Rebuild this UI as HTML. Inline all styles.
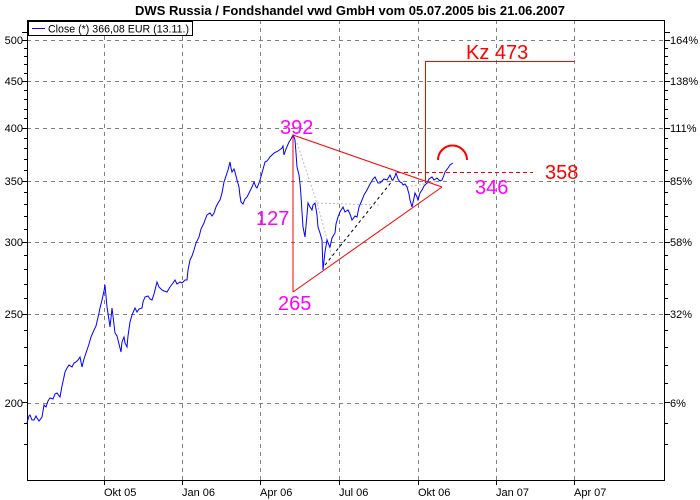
<!DOCTYPE html>
<html><head><meta charset="utf-8"><style>
body{margin:0;background:#fff}
svg{display:block}
text{font-family:"Liberation Sans",sans-serif}
</style></head><body>
<svg width="700" height="500" viewBox="0 0 700 500" xmlns="http://www.w3.org/2000/svg">
<text x="350" y="15" text-anchor="middle" font-size="13" font-weight="bold">DWS Russia / Fondshandel vwd GmbH vom 05.07.2005 bis 21.06.2007</text>
<g stroke="#808080" stroke-dasharray="4,4" stroke-width="1" shape-rendering="crispEdges">
<line x1="27" x2="665" y1="40.5" y2="40.5"/><line x1="27" x2="665" y1="81.5" y2="81.5"/>
<line x1="27" x2="665" y1="128.5" y2="128.5"/><line x1="27" x2="665" y1="181.5" y2="181.5"/>
<line x1="27" x2="665" y1="242.5" y2="242.5"/><line x1="27" x2="665" y1="314.5" y2="314.5"/>
<line x1="27" x2="665" y1="403.5" y2="403.5"/>
<line y1="20" y2="481" x1="104.5" x2="104.5"/><line y1="20" y2="481" x1="182.5" x2="182.5"/>
<line y1="20" y2="481" x1="260.5" x2="260.5"/><line y1="20" y2="481" x1="339.5" x2="339.5"/>
<line y1="20" y2="481" x1="418.5" x2="418.5"/><line y1="20" y2="481" x1="496.5" x2="496.5"/>
<line y1="20" y2="481" x1="574.5" x2="574.5"/>
</g>
<g stroke="#000" shape-rendering="crispEdges">
<path d="M22,32.5h5M22,40.5h5M24,48.5h3M24,56.5h3M24,64.5h3M24,73.5h3M22,81.5h5M24,90.5h3M24,99.5h3M24,109.5h3M24,118.5h3M22,128.5h5M24,138.5h3M24,148.5h3M24,159.5h3M24,170.5h3M22,181.5h5M24,192.5h3M24,204.5h3M24,216.5h3M24,229.5h3M22,242.5h5M24,255.5h3M24,269.5h3M24,284.5h3M24,298.5h3M22,314.5h5M24,330.5h3M24,347.5h3M24,365.5h3M24,383.5h3M22,402.5h5M24,423.5h3M24,444.5h3"/>
<path d="M665,32.5h5M665,40.5h5M665,48.5h3M665,56.5h3M665,64.5h3M665,73.5h3M665,81.5h5M665,90.5h3M665,99.5h3M665,109.5h3M665,118.5h3M665,128.5h5M665,138.5h3M665,148.5h3M665,159.5h3M665,170.5h3M665,181.5h5M665,192.5h3M665,204.5h3M665,216.5h3M665,229.5h3M665,242.5h5M665,255.5h3M665,269.5h3M665,284.5h3M665,298.5h3M665,314.5h5M665,330.5h3M665,347.5h3M665,365.5h3M665,383.5h3M665,402.5h5M665,423.5h3M665,444.5h3"/>
<path d="M104.5,481v4M182.5,481v4M260.5,481v4M339.5,481v4M418.5,481v4M496.5,481v4M574.5,481v4"/>
</g>
<rect x="27.5" y="20.5" width="637" height="460" fill="none" stroke="#000"/>
<g font-size="11" fill="#000">
<text x="23" y="44" text-anchor="end">500</text><text x="23" y="85" text-anchor="end">450</text>
<text x="23" y="132" text-anchor="end">400</text><text x="23" y="185" text-anchor="end">350</text>
<text x="23" y="246" text-anchor="end">300</text><text x="23" y="318" text-anchor="end">250</text>
<text x="23" y="407" text-anchor="end">200</text>
<text x="670" y="44">164%</text><text x="670" y="85">138%</text><text x="670" y="132">111%</text>
<text x="670" y="185">85%</text><text x="670" y="246">58%</text><text x="670" y="318">32%</text>
<text x="670" y="407">6%</text>
<text x="104" y="496">Okt 05</text><text x="182" y="496">Jan 06</text><text x="260" y="496">Apr 06</text>
<text x="339" y="496">Jul 06</text><text x="418" y="496">Okt 06</text><text x="496" y="496">Jan 07</text>
<text x="574" y="496">Apr 07</text>
</g>
<rect x="28.5" y="21.5" width="164" height="14" fill="#fff" stroke="#000"/>
<line x1="32" x2="45" y1="28.5" y2="28.5" stroke="#0000ff"/>
<text x="48" y="32.5" font-size="11" textLength="141" lengthAdjust="spacingAndGlyphs">Close (*) 366,08 EUR (13.11.)</text>
<g fill="none" stroke-width="1">
<polyline stroke="#bbb" stroke-dasharray="2,2" points="297,143 317,203 332,257"/>
<polyline stroke="#bbb" stroke-dasharray="2,2" points="317,203 380,205"/>
<polyline stroke="#bbb" stroke-dasharray="2,2" points="407,187 430,183 440,180"/>
<polyline stroke="#000" stroke-dasharray="3,3" points="325,265 393,180"/>
<polyline stroke="#0000ff" points="27,423 29,416 30,415 32,420 34,420 36,416 37,418 39,421 42,417 44,405 46,407 48,401 50,398 53,399 55,394 57,393 60,397 62,386 64,377 65,372 67,368 69,365 72,367 74,363 76,362 78,360 80,357 82,367 84,359 87,350 89,344 91,337 94,330 96,326 99,313 100,308 102,300 104,291 105,285 106,296 107,307 109,320 110,327 111,318 112,308 113,316 115,333 117,336 119,344 121,352 122,342 124,337 125,343 127,347 128,336 130,322 132,315 135,308 137,312 139,309 142,308 143,302 145,297 148,296 150,299 152,300 154,294 157,282 159,287 162,290 164,291 167,292 170,287 173,283 175,280 177,284 180,282 182,283 185,280 187,280 188,270 190,260 192,256 194,250 196,243 199,237 201,229 204,223 205,220 207,215 210,213 212,216 214,213 216,207 218,203 220,200 222,193 224,182 226,176 228,170 230,162 231,168 232,172 234,169 235,172 237,180 239,187 240,196 241,202 243,204 245,199 247,197 249,193 252,187 254,182 256,187 257,188 259,183 260,180 262,173 265,162 267,161 270,157 272,155 274,153 278,151 282,148 283,146 284,155 286,149 289,142 291,139 293,135 294,137 295,140 296,153 297,167 299,175 300,183 301,196 302,212 303,227 304,232 305,237 307,215 308,203 310,207 312,210 313,205 315,203 317,215 318,227 320,233 322,240 323,270 325,252 327,240 329,245 330,247 332,238 335,233 336,224 338,217 340,212 343,207 345,212 348,210 350,214 352,220 355,216 357,217 359,207 362,200 364,195 367,190 370,184 373,179 375,177 378,183 380,183 384,179 387,180 390,175 392,180 393,180 395,176 396,173 398,179 400,182 402,183 403,185 405,184 407,187 409,194 410,200 412,207 414,198 415,193 417,197 418,200 420,193 422,190 424,186 427,183 429,179 432,177 434,180 437,178 440,181 442,180 444,175 445,172 448,168 450,165 453,163"/>
<line x1="293" y1="135" x2="442" y2="187" stroke="#f00"/>
<line x1="293" y1="292" x2="442" y2="187" stroke="#f00"/>
<line x1="293" y1="135" x2="293" y2="292" stroke="#f00"/>
<line x1="397" y1="172.5" x2="533" y2="172.5" stroke="#f00" stroke-dasharray="4,3"/>
<polyline points="425.5,183 425.5,61.5 574,61.5" stroke="#f00"/>
<path d="M438,160 A14.5,14.5 0 0 1 467,160" stroke="#f00" stroke-width="2"/>
</g>
<g font-size="20">
<text x="466" y="59" fill="#f00">Kz 473</text>
<text x="545" y="179" fill="#f00">358</text>
<text x="475" y="194" fill="#f0f">346</text>
<text x="280" y="134" fill="#f0f">392</text>
<text x="278" y="310" fill="#f0f">265</text>
<text x="256" y="225" fill="#f0f">127</text>
</g>
</svg>
</body></html>
